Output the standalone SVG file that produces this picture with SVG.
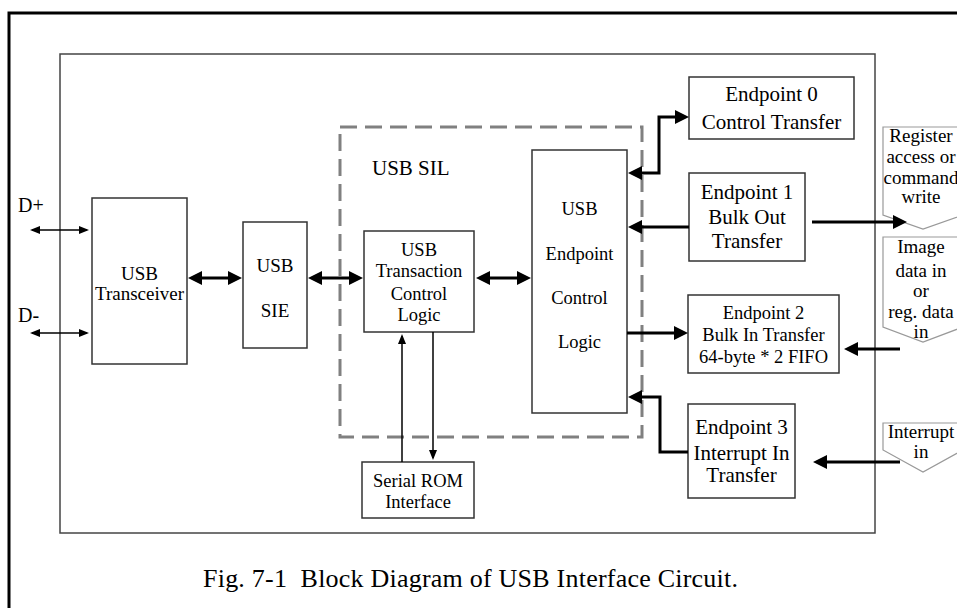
<svg xmlns="http://www.w3.org/2000/svg" width="957" height="608" viewBox="0 0 957 608" font-family="'Liberation Serif', 'DejaVu Serif', serif">
<style>
text{font-family:'Liberation Serif','DejaVu Serif',serif;fill:#000;}
.box{fill:#fff;stroke:#333;stroke-width:1.5;}
.c{text-anchor:middle;}
.thick{fill:none;stroke:#000;stroke-width:3;}
.thin{fill:none;stroke:#000;stroke-width:1.5;}
.pent{fill:#fff;stroke:#999;stroke-width:1.2;}
</style>
<defs>
<marker id="ah" viewBox="0 0 14 14" refX="10" refY="7" markerWidth="14" markerHeight="14" markerUnits="userSpaceOnUse" orient="auto-start-reverse"><path d="M0,0 L14,7 L0,14 z" fill="#000"/></marker>
<marker id="at" viewBox="0 0 10 8" refX="8" refY="4" markerWidth="10" markerHeight="8" markerUnits="userSpaceOnUse" orient="auto-start-reverse"><path d="M0,0 L10,4 L0,8 z" fill="#000"/></marker>
</defs>
<rect width="957" height="608" fill="#fff"/>
<rect id="frame" x="9" y="13" width="1000" height="700" fill="none" stroke="#000" stroke-width="3"/>
<rect id="board" x="60" y="54" width="815" height="479" fill="none" stroke="#444" stroke-width="1.5"/>
<g id="sil">
<rect x="340" y="127" width="302" height="310" fill="none" stroke="#808080" stroke-width="3" stroke-dasharray="17 8"/>
<text x="372" y="175" font-size="21">USB SIL</text>
</g>
<g id="transceiver"><rect class="box" x="92" y="198" width="95" height="166"/>
<text class="c" x="139.5" y="280" font-size="19">USB</text><text class="c" x="139.5" y="300" font-size="19">Transceiver</text></g>
<g id="sie"><rect class="box" x="243" y="222" width="64" height="126"/>
<text class="c" x="275" y="272" font-size="19">USB</text><text class="c" x="275" y="317" font-size="19">SIE</text></g>
<g id="transaction"><rect class="box" x="364" y="231" width="110" height="101"/>
<text class="c" x="419" y="256" font-size="18.5">USB</text><text class="c" x="419" y="277" font-size="18.5">Transaction</text><text class="c" x="419" y="300" font-size="18.5">Control</text><text class="c" x="419" y="321" font-size="18.5">Logic</text></g>
<g id="epctrl"><rect class="box" x="532" y="150" width="95" height="263"/>
<text class="c" x="579.5" y="215" font-size="18.5">USB</text><text class="c" x="579.5" y="260" font-size="18.5">Endpoint</text><text class="c" x="579.5" y="304" font-size="18.5">Control</text><text class="c" x="579.5" y="348" font-size="18.5">Logic</text></g>
<g id="serialrom"><rect class="box" x="362" y="462" width="112" height="56"/>
<text class="c" x="418" y="487" font-size="18.5">Serial ROM</text><text class="c" x="418" y="508" font-size="18.5">Interface</text></g>
<g id="ep0"><rect class="box" x="689" y="77" width="165" height="62"/>
<text class="c" x="771.5" y="101" font-size="21">Endpoint 0</text><text class="c" x="771.5" y="129" font-size="21">Control Transfer</text></g>
<g id="ep1"><rect class="box" x="689" y="173" width="116" height="88"/>
<text class="c" x="747" y="199" font-size="21">Endpoint 1</text><text class="c" x="747" y="224" font-size="21">Bulk Out</text><text class="c" x="747" y="248" font-size="21">Transfer</text></g>
<g id="ep2"><rect class="box" x="688" y="295" width="151" height="78"/>
<text class="c" x="763.5" y="319" font-size="18.5">Endpoint 2</text><text class="c" x="763.5" y="341" font-size="18.5">Bulk In Transfer</text><text class="c" x="763.5" y="363" font-size="18.5">64-byte * 2 FIFO</text></g>
<g id="ep3"><rect class="box" x="688" y="404" width="107" height="94"/>
<text class="c" x="741.5" y="434" font-size="21">Endpoint 3</text><text class="c" x="741.5" y="460" font-size="21">Interrupt In</text><text class="c" x="741.5" y="482" font-size="21">Transfer</text></g>
<g id="reg-write"><polygon class="pent" points="883,127 963,127 963,215 923,229 883,215"/>
<text class="c" x="921" y="142" font-size="19">Register</text><text class="c" x="921" y="163" font-size="19">access or</text><text class="c" x="921" y="184" font-size="19">command</text><text class="c" x="921" y="203" font-size="19">write</text></g>
<g id="image-in"><polygon class="pent" points="883,237 963,237 963,327 923,342 883,327"/>
<text class="c" x="921" y="253" font-size="19">Image</text><text class="c" x="921" y="277" font-size="19">data in</text><text class="c" x="921" y="297" font-size="19">or</text><text class="c" x="921" y="318" font-size="19">reg. data</text><text class="c" x="921" y="338" font-size="19">in</text></g>
<g id="interrupt-in"><polygon class="pent" points="883,423 963,423 963,450 923,472 883,450"/>
<text class="c" x="921" y="438" font-size="19">Interrupt</text><text class="c" x="921" y="458" font-size="19">in</text></g>
<g id="dlabels"><text x="18" y="212" font-size="20">D+</text><text x="18" y="322" font-size="20">D-</text></g>
<g id="connectors">
<line class="thin" x1="32" y1="230" x2="87" y2="230" marker-start="url(#at)" marker-end="url(#at)"/>
<line class="thin" x1="32" y1="333" x2="87" y2="333" marker-start="url(#at)" marker-end="url(#at)"/>
<line class="thick" x1="192" y1="278" x2="238" y2="278" marker-start="url(#ah)" marker-end="url(#ah)"/>
<line class="thick" x1="312" y1="278" x2="359" y2="278" marker-start="url(#ah)" marker-end="url(#ah)"/>
<line class="thick" x1="480" y1="278" x2="527" y2="278" marker-start="url(#ah)" marker-end="url(#ah)"/>
<line class="thin" x1="402" y1="462" x2="402" y2="336" marker-end="url(#at)"/>
<line class="thin" x1="433" y1="332" x2="433" y2="458" marker-end="url(#at)"/>
<polyline class="thick" points="632,173 659,173 659,117 685,117" marker-start="url(#ah)" marker-end="url(#ah)"/>
<line class="thick" x1="689" y1="227" x2="632" y2="227" marker-end="url(#ah)"/>
<line class="thick" x1="627" y1="333" x2="684" y2="333" marker-end="url(#ah)"/>
<polyline class="thick" points="688,452 660,452 660,397 632,397" marker-end="url(#ah)"/>
<line class="thick" x1="812" y1="222" x2="903" y2="222" marker-end="url(#ah)"/>
<line class="thick" x1="900" y1="349" x2="848" y2="349" marker-end="url(#ah)"/>
<line class="thick" x1="900" y1="462" x2="817" y2="462" marker-end="url(#ah)"/>
</g>
<text id="caption" x="203" y="587" font-size="26" textLength="535" lengthAdjust="spacing" xml:space="preserve">Fig. 7-1  Block Diagram of USB Interface Circuit.</text>
</svg>
